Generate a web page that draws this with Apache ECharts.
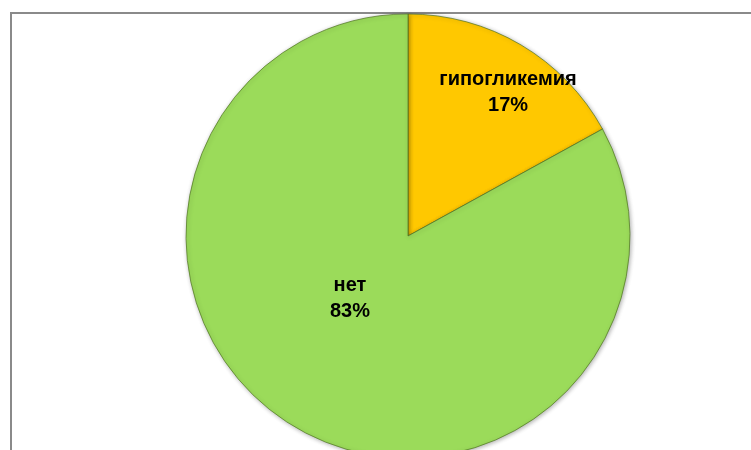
<!DOCTYPE html>
<html>
<head>
<meta charset="utf-8">
<style>
  html, body { margin: 0; padding: 0; background: #ffffff; }
  #chart { width: 751px; height: 450px; }
</style>
<script src="https://cdn.jsdelivr.net/npm/echarts@6/dist/echarts.min.js"></script>
</head>
<body>
<div id="chart"></div>
<script>
// Share of patients with and without hypoglycemia
const categories = ['гипогликемия', 'нет'];
const shares = [17, 83];
const sliceColors = ['#FFC800', '#9BDB5A'];
const labelOffsets = [[42, -45], [0, -36]];

const chart = echarts.init(document.getElementById('chart'), null, { renderer: 'canvas' });

const pieData = categories.map((name, i) => ({
  name: name,
  value: shares[i],
  itemStyle: { color: sliceColors[i] },
  label: { offset: labelOffsets[i] }
}));

chart.setOption({
  animation: false,
  backgroundColor: '#ffffff',
  graphic: [{
    type: 'rect',
    shape: { x: 11, y: 13, width: 800, height: 500 },
    style: { fill: 'none', stroke: '#8a8a8a', lineWidth: 2 },
    silent: true,
    z: 0
  }],
  series: [{
    type: 'pie',
    center: [408, 236],
    radius: 222,
    startAngle: 90,
    clockwise: true,
    avoidLabelOverlap: false,
    data: pieData,
    itemStyle: {
      borderColor: 'rgba(80,115,35,0.7)',
      borderWidth: 1,
      shadowBlur: 4,
      shadowColor: 'rgba(0,0,0,0.3)',
      shadowOffsetX: 1,
      shadowOffsetY: 1
    },
    label: {
      show: true,
      position: 'inside',
      formatter: p => p.name + '\n' + p.value + '%',
      color: '#000000',
      fontFamily: 'Liberation Sans, Arial, sans-serif',
      fontWeight: 'bold',
      fontSize: 20,
      lineHeight: 26,
      align: 'center'
    },
    labelLine: { show: false },
    emphasis: { disabled: true }
  }]
});
</script>
</body>
</html>
